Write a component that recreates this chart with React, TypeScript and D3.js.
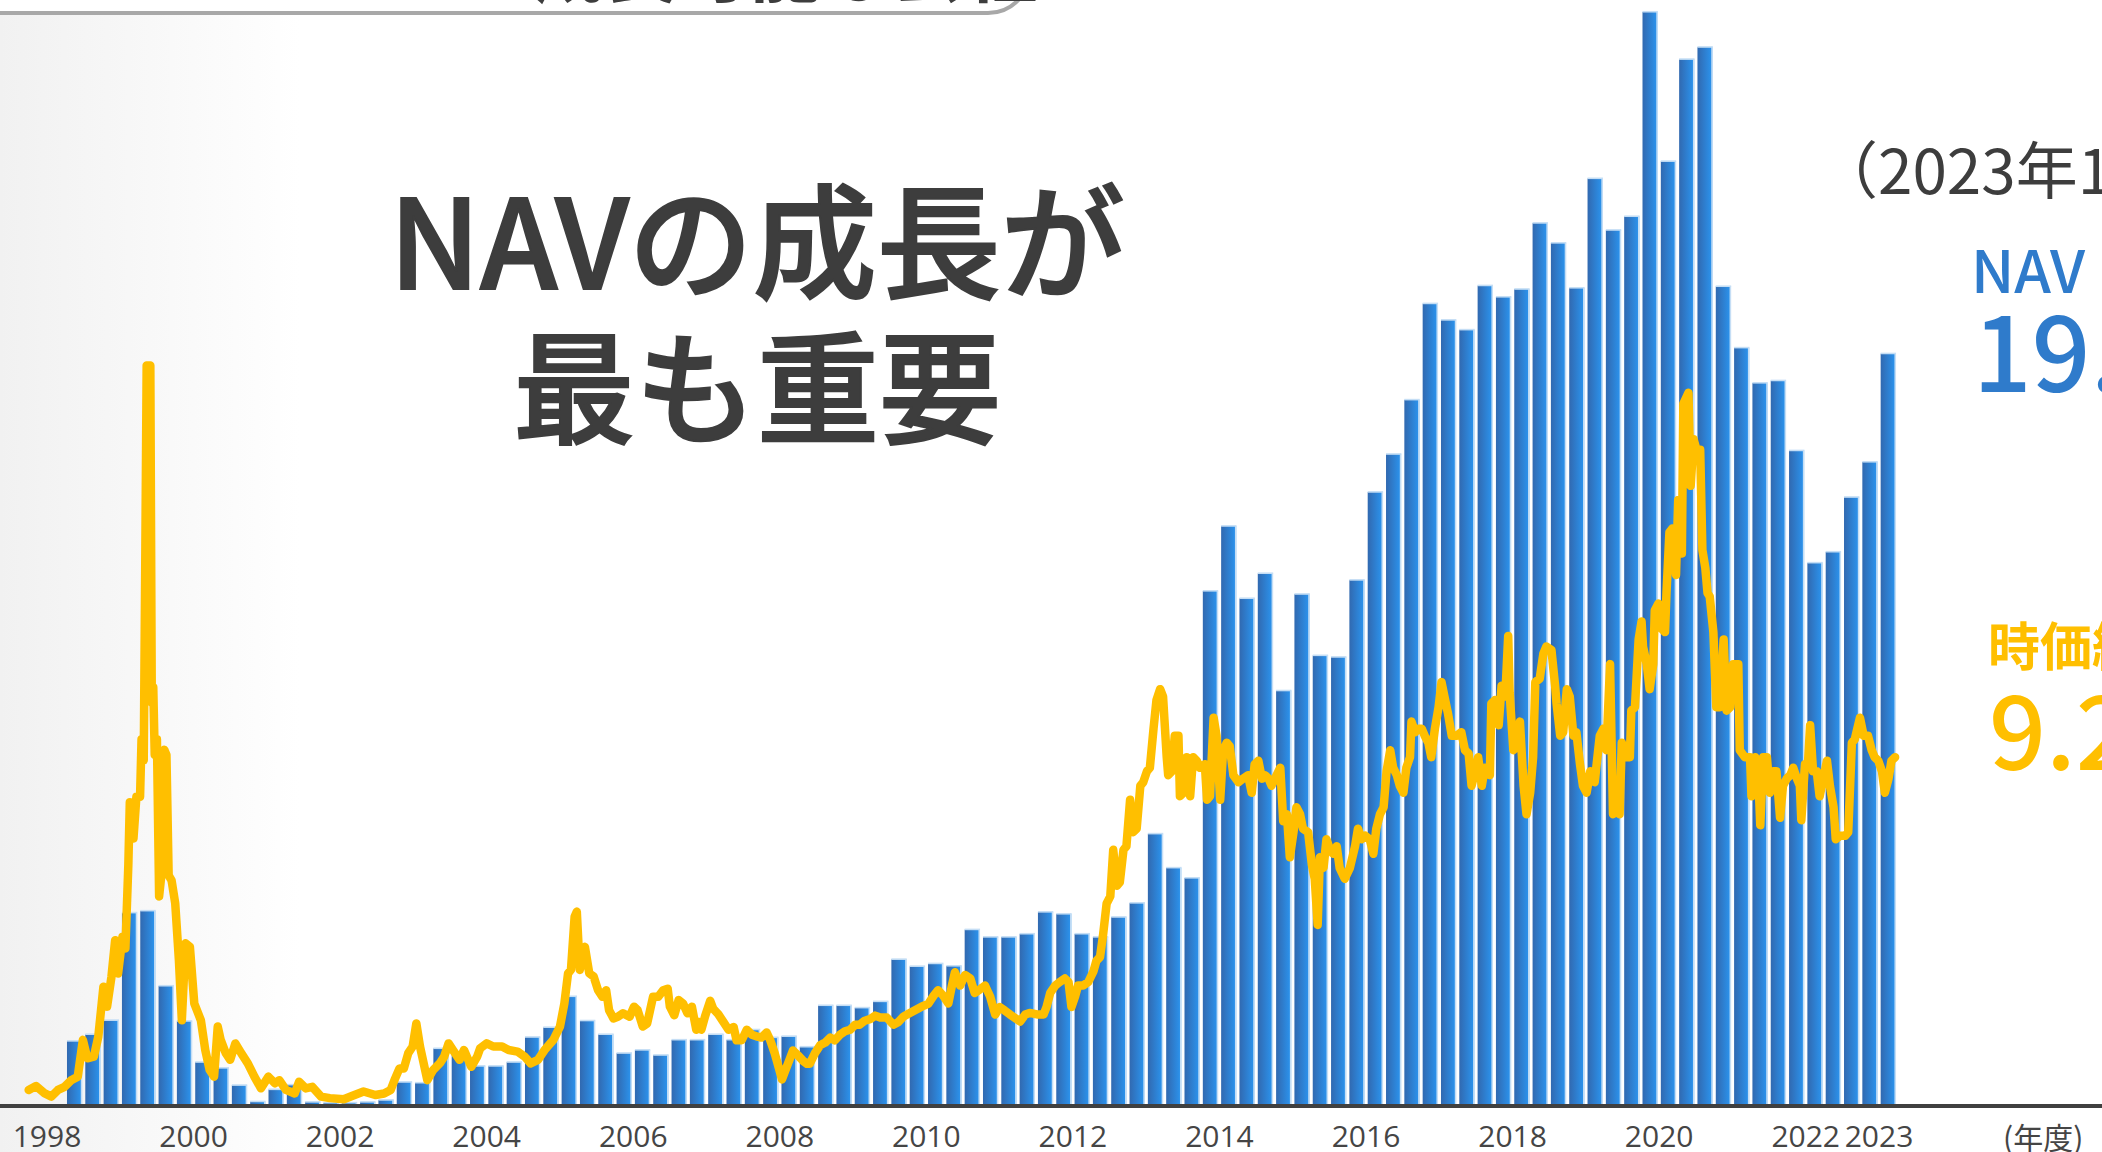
import React from 'react';
import * as d3 from 'd3';

const W = 2102;
const H = 1152;

// NAV (兆円), quarterly bars starting at 1998 Q2
const navStart = 1998.375;
const navValues = [
  1.61, 1.78, 2.14, 4.89, 4.94, 3.02, 2.12, 1.07, 0.92, 0.48,
  0.06, 0.37, 0.49, 0.05, 0.03, 0.03, 0.05, 0.1, 0.56, 0.54,
  1.42, 1.32, 0.97, 0.97, 1.07, 1.71, 1.96, 2.75, 2.13, 1.78,
  1.3, 1.38, 1.25, 1.64, 1.64, 1.78, 1.64, 1.9, 1.7, 1.73,
  1.46, 2.52, 2.52, 2.46, 2.62, 3.7, 3.52, 3.59, 3.53, 4.46,
  4.27, 4.27, 4.35, 4.91, 4.86, 4.35, 4.27, 4.78, 5.14, 6.91,
  6.04, 5.78, 13.12, 14.78, 12.93, 13.57, 10.57, 13.04, 11.47, 11.43,
  13.4, 15.65, 16.62, 18.01, 20.47, 20.05, 19.8, 20.93, 20.64, 20.84,
  22.53, 22.02, 20.87, 23.67, 22.35, 22.7, 27.93, 24.11, 26.72, 27.03,
  20.91, 19.34, 18.44, 18.5, 16.71, 13.84, 14.12, 15.52, 16.42, 19.19,
];

// 時価総額 (兆円): [year, value]
const marketCap: [number, number][] = [
  [1997.75, 0.36], [1997.85, 0.46], [1997.97, 0.27], [1998.06, 0.19], [1998.15, 0.36],
  [1998.24, 0.44], [1998.33, 0.61], [1998.42, 0.7], [1998.49, 1.64], [1998.55, 1.17],
  [1998.64, 1.21], [1998.7, 1.72], [1998.77, 3.0], [1998.82, 2.49], [1998.88, 3.26],
  [1998.93, 4.19], [1998.97, 3.34], [1999.03, 4.28], [1999.07, 3.98], [1999.11, 6.12],
  [1999.13, 7.72], [1999.18, 6.79], [1999.22, 7.86], [1999.27, 7.86], [1999.29, 9.33],
  [1999.32, 8.79], [1999.34, 13.61], [1999.36, 18.89], [1999.41, 18.89], [1999.43, 10.26],
  [1999.45, 10.66], [1999.47, 8.93], [1999.5, 9.33], [1999.53, 5.31], [1999.56, 5.85],
  [1999.6, 9.06], [1999.63, 8.93], [1999.66, 5.85], [1999.7, 5.72], [1999.75, 5.13],
  [1999.8, 3.68], [1999.84, 2.14], [1999.89, 4.11], [1999.95, 4.02], [2000.01, 2.57],
  [2000.1, 2.14], [2000.16, 1.38], [2000.22, 0.87], [2000.28, 0.7], [2000.33, 1.98],
  [2000.37, 1.64], [2000.44, 1.3], [2000.5, 1.13], [2000.57, 1.55], [2000.65, 1.3],
  [2000.74, 1.04], [2000.83, 0.7], [2000.92, 0.4], [2001.02, 0.7], [2001.11, 0.53],
  [2001.17, 0.61], [2001.26, 0.36], [2001.38, 0.27], [2001.44, 0.57], [2001.53, 0.4],
  [2001.62, 0.44], [2001.74, 0.19], [2001.86, 0.15], [2002.05, 0.12], [2002.17, 0.21],
  [2002.32, 0.32], [2002.48, 0.23], [2002.6, 0.27], [2002.69, 0.36], [2002.75, 0.65],
  [2002.81, 0.91], [2002.87, 0.91], [2002.93, 1.3], [2002.99, 1.47], [2003.04, 2.06],
  [2003.09, 1.47], [2003.13, 1.13], [2003.19, 0.61], [2003.27, 0.87], [2003.36, 1.04],
  [2003.42, 1.21], [2003.48, 1.55], [2003.54, 1.38], [2003.63, 1.13], [2003.69, 1.38],
  [2003.79, 0.95], [2003.87, 1.21], [2003.91, 1.42], [2004.0, 1.55], [2004.09, 1.47],
  [2004.21, 1.47], [2004.3, 1.38], [2004.42, 1.34], [2004.52, 1.21], [2004.6, 1.04],
  [2004.7, 1.13], [2004.79, 1.38], [2004.91, 1.64], [2005.0, 1.98], [2005.06, 2.57],
  [2005.11, 3.34], [2005.15, 3.43], [2005.2, 4.79], [2005.23, 4.92], [2005.27, 3.43],
  [2005.34, 4.02], [2005.4, 3.34], [2005.46, 3.26], [2005.52, 2.91], [2005.58, 2.74],
  [2005.63, 2.91], [2005.67, 2.4], [2005.73, 2.19], [2005.79, 2.23], [2005.86, 2.32],
  [2005.95, 2.23], [2006.01, 2.49], [2006.06, 2.4], [2006.13, 1.98], [2006.19, 2.06],
  [2006.27, 2.74], [2006.34, 2.74], [2006.41, 2.91], [2006.47, 2.95], [2006.5, 2.49],
  [2006.56, 2.27], [2006.62, 2.66], [2006.68, 2.57], [2006.74, 2.32], [2006.8, 2.49],
  [2006.86, 1.9], [2006.89, 2.1], [2006.93, 1.9], [2006.98, 2.24], [2007.05, 2.64],
  [2007.09, 2.44], [2007.16, 2.3], [2007.23, 2.1], [2007.3, 1.9], [2007.37, 1.97],
  [2007.41, 1.63], [2007.48, 1.63], [2007.55, 1.9], [2007.62, 1.77], [2007.68, 1.73],
  [2007.75, 1.7], [2007.82, 1.83], [2007.87, 1.63], [2007.93, 1.3], [2007.98, 0.97],
  [2008.03, 0.63], [2008.07, 0.83], [2008.14, 1.17], [2008.18, 1.37], [2008.25, 1.24],
  [2008.32, 1.1], [2008.37, 1.03], [2008.41, 1.03], [2008.48, 1.3], [2008.55, 1.5],
  [2008.62, 1.57], [2008.69, 1.7], [2008.75, 1.63], [2008.82, 1.77], [2008.89, 1.86],
  [2008.96, 1.9], [2009.03, 2.03], [2009.09, 2.03], [2009.16, 2.13], [2009.23, 2.17],
  [2009.3, 2.26], [2009.37, 2.21], [2009.46, 2.21], [2009.55, 2.03], [2009.62, 2.1],
  [2009.69, 2.24], [2009.75, 2.3], [2009.82, 2.37], [2009.89, 2.44], [2009.96, 2.51],
  [2010.03, 2.57], [2010.1, 2.77], [2010.16, 2.91], [2010.23, 2.77], [2010.3, 2.57],
  [2010.35, 3.04], [2010.39, 3.37], [2010.46, 3.03], [2010.53, 3.3], [2010.6, 3.21],
  [2010.66, 2.84], [2010.73, 2.93], [2010.8, 3.03], [2010.87, 2.75], [2010.94, 2.29],
  [2011.0, 2.48], [2011.07, 2.39], [2011.14, 2.29], [2011.21, 2.2], [2011.28, 2.11],
  [2011.35, 2.29], [2011.41, 2.33], [2011.51, 2.29], [2011.6, 2.29], [2011.64, 2.48],
  [2011.69, 2.84], [2011.76, 3.03], [2011.82, 3.12], [2011.89, 3.21], [2011.94, 3.12],
  [2011.98, 2.48], [2012.03, 2.75], [2012.07, 3.03], [2012.14, 3.03], [2012.21, 3.12],
  [2012.28, 3.39], [2012.32, 3.66], [2012.37, 3.76], [2012.41, 4.3], [2012.46, 5.13],
  [2012.51, 5.31], [2012.55, 6.5], [2012.6, 5.58], [2012.64, 5.67], [2012.69, 6.5],
  [2012.73, 6.59], [2012.78, 7.78], [2012.82, 6.95], [2012.87, 7.04], [2012.92, 8.14],
  [2012.96, 8.23], [2013.01, 8.51], [2013.05, 8.6], [2013.1, 9.6], [2013.14, 10.33],
  [2013.19, 10.61], [2013.23, 10.42], [2013.28, 8.87], [2013.3, 8.41], [2013.35, 8.51],
  [2013.39, 9.42], [2013.44, 9.42], [2013.46, 7.87], [2013.51, 7.96], [2013.55, 8.87],
  [2013.6, 7.87], [2013.64, 8.87], [2013.69, 8.78], [2013.73, 8.6], [2013.8, 8.69],
  [2013.83, 7.78], [2013.87, 7.87], [2013.92, 9.88], [2013.96, 9.42], [2014.01, 7.78],
  [2014.05, 9.05], [2014.1, 9.24], [2014.14, 9.15], [2014.19, 8.41], [2014.26, 8.23],
  [2014.32, 8.32], [2014.39, 8.41], [2014.44, 7.96], [2014.48, 8.69], [2014.53, 8.78],
  [2014.58, 8.32], [2014.62, 8.41], [2014.67, 8.32], [2014.71, 8.14], [2014.78, 8.41],
  [2014.83, 8.6], [2014.87, 7.23], [2014.92, 7.41], [2014.96, 6.31], [2015.01, 6.95],
  [2015.05, 7.59], [2015.1, 7.41], [2015.14, 7.04], [2015.21, 6.95], [2015.26, 6.13],
  [2015.3, 5.76], [2015.34, 4.58], [2015.37, 6.31], [2015.42, 6.04], [2015.46, 6.77],
  [2015.51, 6.5], [2015.55, 6.4], [2015.6, 6.59], [2015.64, 6.04], [2015.71, 5.76],
  [2015.78, 6.04], [2015.85, 6.59], [2015.89, 7.04], [2015.94, 6.77], [2015.99, 6.86],
  [2016.05, 6.77], [2016.1, 6.4], [2016.14, 7.04], [2016.19, 7.41], [2016.24, 7.59],
  [2016.28, 8.51], [2016.33, 9.05], [2016.37, 8.6], [2016.42, 8.41], [2016.46, 8.14],
  [2016.51, 7.96], [2016.55, 8.6], [2016.6, 8.87], [2016.62, 9.78], [2016.67, 9.51],
  [2016.71, 9.6], [2016.76, 9.6], [2016.8, 9.42], [2016.85, 9.24], [2016.89, 8.87],
  [2016.94, 9.6], [2016.99, 10.15], [2017.03, 10.79], [2017.08, 10.33], [2017.12, 9.97],
  [2017.17, 9.42], [2017.24, 9.42], [2017.3, 9.51], [2017.35, 9.05], [2017.4, 8.96],
  [2017.44, 8.14], [2017.49, 8.51], [2017.53, 8.87], [2017.58, 8.14], [2017.62, 8.6],
  [2017.69, 8.41], [2017.71, 10.24], [2017.76, 10.33], [2017.81, 9.69], [2017.85, 10.7],
  [2017.9, 10.42], [2017.94, 11.97], [2017.96, 10.51], [2018.01, 9.05], [2018.06, 9.15],
  [2018.1, 9.78], [2018.15, 8.14], [2018.19, 7.41], [2018.24, 7.96], [2018.28, 8.87],
  [2018.31, 10.79], [2018.37, 10.88], [2018.42, 11.52], [2018.46, 11.7], [2018.53, 11.61],
  [2018.58, 10.7], [2018.6, 10.24], [2018.65, 9.42], [2018.69, 9.51], [2018.74, 10.61],
  [2018.78, 10.42], [2018.83, 9.42], [2018.87, 9.51], [2018.92, 8.69], [2018.96, 8.14],
  [2019.01, 7.96], [2019.06, 8.51], [2019.12, 8.23], [2019.19, 9.42], [2019.24, 9.6],
  [2019.28, 9.05], [2019.33, 11.25], [2019.37, 7.41], [2019.42, 7.5], [2019.46, 7.41],
  [2019.49, 9.24], [2019.53, 8.87], [2019.6, 8.87], [2019.62, 10.06], [2019.67, 10.15],
  [2019.72, 11.88], [2019.76, 12.34], [2019.78, 11.7], [2019.83, 11.25], [2019.87, 10.61],
  [2019.92, 11.25], [2019.94, 12.62], [2019.99, 12.8], [2020.03, 12.16], [2020.08, 12.07],
  [2020.1, 13.07], [2020.14, 14.62], [2020.18, 14.72], [2020.23, 13.53], [2020.26, 15.45],
  [2020.31, 14.08], [2020.33, 17.91], [2020.4, 18.19], [2020.43, 15.81], [2020.47, 17.0],
  [2020.51, 16.73], [2020.56, 16.73], [2020.59, 14.17], [2020.63, 13.71], [2020.66, 13.07],
  [2020.69, 12.98], [2020.74, 12.07], [2020.78, 10.15], [2020.83, 10.15], [2020.88, 11.88],
  [2020.92, 10.06], [2020.97, 10.15], [2021.01, 11.25], [2021.08, 11.25], [2021.1, 9.05],
  [2021.17, 8.87], [2021.24, 8.87], [2021.26, 7.87], [2021.31, 8.87], [2021.35, 8.51],
  [2021.38, 7.13], [2021.42, 8.87], [2021.47, 8.87], [2021.51, 7.96], [2021.56, 8.51],
  [2021.6, 8.51], [2021.65, 7.32], [2021.69, 8.14], [2021.74, 8.32], [2021.79, 8.41],
  [2021.83, 8.6], [2021.88, 8.32], [2021.92, 8.14], [2021.94, 7.26], [2021.99, 8.69],
  [2022.03, 8.69], [2022.06, 9.69], [2022.1, 8.51], [2022.15, 8.51], [2022.19, 7.87],
  [2022.24, 8.32], [2022.29, 8.78], [2022.33, 8.14], [2022.38, 7.59], [2022.41, 6.77],
  [2022.47, 6.86], [2022.54, 6.86], [2022.58, 6.95], [2022.63, 9.24], [2022.67, 9.33],
  [2022.74, 9.88], [2022.79, 9.42], [2022.85, 9.42], [2022.9, 9.05], [2022.94, 8.87],
  [2022.99, 8.78], [2023.04, 8.51], [2023.08, 7.96], [2023.13, 8.32], [2023.17, 8.78],
  [2023.22, 8.87],
];

const yearTicks = [1998, 2000, 2002, 2004, 2006, 2008, 2010, 2012, 2014, 2016, 2018, 2020, 2022, 2023];

const headline = ['NAVの成長が', '最も重要'];

const BLUE = '#2f7bcb';
const GOLD = '#ffbf00';
const DARK = '#3d3d3d';
const JP = '"Noto Sans CJK JP", "Noto Sans", sans-serif';

export default function App() {
  const x = d3.scaleLinear().domain([1998, 2023]).range([47, 1879]);
  const y = d3.scaleLinear().domain([0, 28]).range([1104, 9.2]);
  const barW = 15;

  const line = d3
    .line<[number, number]>()
    .x((d) => x(d[0]))
    .y((d) => y(d[1]));

  return (
    <svg
      width={W}
      height={H}
      style={{ position: 'fixed', left: 0, top: 0, background: '#fff' }}
      fontFamily={JP}
    >
      <defs>
        <linearGradient id="bg" x1="0" x2="1" y1="0" y2="0">
          <stop offset="0" stopColor="#f1f1f1" />
          <stop offset="1" stopColor="#ffffff" />
        </linearGradient>
        <linearGradient id="bar" x1="0" x2="1" y1="0" y2="0">
          <stop offset="0" stopColor="#3169b0" />
          <stop offset="1" stopColor="#2b95f0" />
        </linearGradient>
      </defs>

      <rect x={0} y={0} width={W} height={H} fill="#fff" />
      <rect x={0} y={0} width={300} height={H} fill="url(#bg)" />

      {/* title box, mostly cut off at the top */}
      <rect x={-40} y={-200} width={1070} height={213} rx={42} fill="#fff" stroke="#a8a8a8" strokeWidth={4} />
      <text x={300} y={-8} fontSize={60} fill="#a0a0a0" fontWeight={700}>これから</text>
      <text x={533} y={-4} fontSize={72} fill={DARK} fontWeight={700}>成長可能な会社</text>

      {/* headline */}
      <g fill={DARK} stroke={DARK} strokeWidth={2} textAnchor="middle" fontWeight={500}>
        <text x={757} y={289} fontSize={124}>{headline[0]}</text>
        <text x={757} y={434} fontSize={122}>{headline[1]}</text>
      </g>

      {/* NAV bars */}
      <g>
        {navValues.map((v, i) => {
          const cx = x(navStart + i * 0.25);
          const top = y(v);
          const h = y(0) - top;
          return (
            <g key={i}>
              <rect x={cx - barW / 2} y={top} width={barW} height={h} fill="url(#bar)" />
              <rect x={cx + barW / 2 - 1.2} y={top} width={1.6} height={h} fill="#c5def5" />
              <rect x={cx - barW / 2} y={top - 1} width={barW + 0.4} height={1.6} fill="#c5def5" />
            </g>
          );
        })}
      </g>

      {/* market cap line */}
      <path d={line(marketCap) || ''} fill="none" stroke={GOLD} strokeWidth={8.5} strokeLinejoin="round" strokeLinecap="round" />

      {/* axis */}
      <line x1={0} x2={W} y1={1106} y2={1106} stroke="#404040" strokeWidth={4} />
      {yearTicks.map((t) => (
        <text key={t} x={x(t)} y={1147} fontSize={30} fill="#454545" textAnchor="middle" fontFamily='"Open Sans", "Noto Sans", sans-serif'>
          {t}
        </text>
      ))}
      <text x={2003} y={1149} fontSize={30} fill="#454545">(年度)</text>

      {/* right-hand annotations (cut off at the edge) */}
      <text x={1816} y={194} fontSize={62} fill={DARK}>（2023年11月末時点）</text>
      <text x={1971} y={293} fontSize={59} fill={BLUE} fontWeight={500}>NAV</text>
      <text x={1973} y={392} fontSize={103} fill={BLUE} fontWeight={500}>19.2兆円</text>
      <text x={1988} y={666} fontSize={52} fill={GOLD} fontWeight={700}>時価総額</text>
      <text x={1989} y={770} fontSize={100} fill={GOLD} fontWeight={500}>9.2兆円</text>
    </svg>
  );
}
